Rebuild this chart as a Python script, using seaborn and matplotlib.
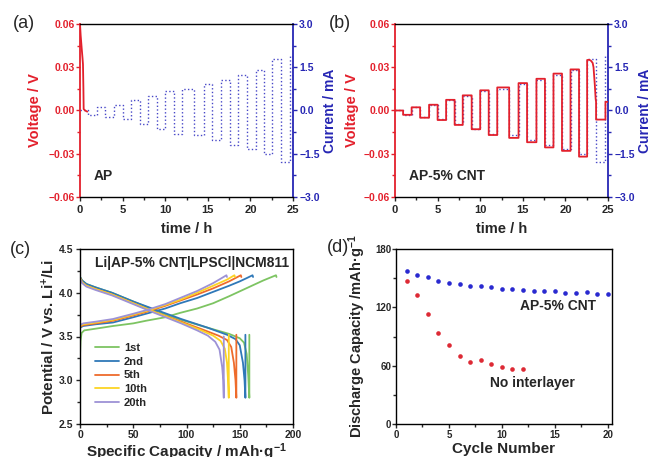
import matplotlib
matplotlib.use('Agg')
import matplotlib.pyplot as plt
from matplotlib.ticker import MultipleLocator
import seaborn as sns

# (a)/(b) galvanostatic steps: step edges (h) and current levels (mA)
step_edges = [0, 0.95, 1.95, 2.95, 4.0, 5.0, 6.0, 7.0, 7.95, 9.0, 10.0, 11.0, 12.0,
              13.4, 14.5, 15.5, 16.6, 17.6, 18.6, 19.6, 20.6, 21.6, 22.55, 23.55, 24.7]
current_ma = [0.0, -0.15, 0.11, -0.24, 0.19, -0.31, 0.35, -0.47, 0.51, -0.64, 0.67, -0.80,
              0.75, -0.86, 0.92, -1.01, 1.06, -1.19, 1.24, -1.34, 1.39, -1.50, 1.78, -1.80, 1.90]

# (a) AP voltage, only the initial spike is on scale
t_ap = [0, 0.08, 0.2, 0.3, 0.35, 0.4, 0.43, 0.6, 0.85]
v_ap = [0.060, 0.052, 0.043, 0.036, 0.032, 0.015, 0.001, 0.0, -0.0008]

# (b) AP-5% CNT voltage levels (V) on the same steps, then the last cycle
v_cnt_steps = [0.0, -0.003, 0.0022, -0.005, 0.004, -0.0066, 0.0074, -0.010, 0.0105, -0.013,
               0.014, -0.017, 0.016, -0.019, 0.019, -0.022, 0.022, -0.0256, 0.0256, -0.028,
               0.0285, -0.032]
t_cnt_tail = [22.55, 22.8, 23.0, 23.2, 23.3, 23.45, 23.55, 23.6, 23.6, 24.7, 24.7, 25.0]
v_cnt_tail = [0.035, 0.0352, 0.0345, 0.033, 0.030, 0.018, 0.008, 0.006, -0.0063, -0.0063, 0.006, 0.006]

# (c) charge / discharge curves
cycles = ['1st', '2nd', '5th', '10th', '20th']
cycle_colors = ['#7dc462', '#2f78b8', '#ee6b2c', '#fcd424', '#9d92d6']

cap_chg_1 = [0, 0.5, 1.5, 4, 15, 31, 50, 62, 80, 94, 110, 125, 140, 156, 172, 180, 184, 184.5]
v_chg_1 = [3.28, 3.45, 3.54, 3.57, 3.59, 3.62, 3.65, 3.68, 3.72, 3.77, 3.82, 3.88, 3.96, 4.05, 4.14, 4.18, 4.20, 4.18]
cap_chg_2 = [0, 3, 15, 31, 50, 62, 80, 94, 110, 125, 140, 150, 157, 162, 162.5]
v_chg_2 = [3.60, 3.62, 3.64, 3.66, 3.72, 3.76, 3.82, 3.88, 3.94, 4.01, 4.08, 4.13, 4.17, 4.20, 4.18]
cap_chg_5 = [0, 3, 15, 31, 50, 62, 80, 94, 110, 125, 140, 151, 151.5]
v_chg_5 = [3.61, 3.63, 3.65, 3.68, 3.74, 3.78, 3.85, 3.91, 3.98, 4.05, 4.13, 4.20, 4.18]
cap_chg_10 = [0, 3, 15, 31, 50, 62, 80, 94, 110, 125, 138, 145, 145.5]
v_chg_10 = [3.62, 3.64, 3.66, 3.69, 3.75, 3.79, 3.86, 3.92, 4.00, 4.08, 4.15, 4.20, 4.18]
cap_chg_20 = [0, 3, 15, 31, 50, 62, 80, 94, 110, 125, 132, 137.5, 138]
v_chg_20 = [3.63, 3.65, 3.67, 3.70, 3.76, 3.80, 3.87, 3.94, 4.02, 4.11, 4.16, 4.20, 4.18]

cap_dis_1 = [0, 2, 6, 15, 30, 50, 70, 95, 120, 140, 150, 154, 156.5, 158, 159, 159]
v_dis_1 = [4.18, 4.14, 4.10, 4.06, 4.00, 3.90, 3.80, 3.69, 3.60, 3.53, 3.48, 3.43, 3.30, 3.05, 2.80, 3.52]
cap_dis_2 = [0, 2, 6, 15, 30, 50, 70, 95, 120, 138, 146, 150, 153, 154.5, 155.3, 155.3]
v_dis_2 = [4.18, 4.14, 4.10, 4.06, 4.00, 3.90, 3.81, 3.70, 3.60, 3.52, 3.47, 3.40, 3.20, 3.00, 2.80, 3.52]
cap_dis_5 = [0, 2, 6, 15, 30, 50, 70, 95, 115, 130, 138, 142, 144.5, 146, 146.8, 146.8]
v_dis_5 = [4.17, 4.12, 4.08, 4.04, 3.98, 3.88, 3.78, 3.67, 3.58, 3.51, 3.46, 3.38, 3.20, 3.00, 2.80, 3.52]
cap_dis_10 = [0, 2, 6, 15, 30, 50, 70, 95, 112, 125, 132, 136, 138, 139, 139.7, 139.7]
v_dis_10 = [4.17, 4.12, 4.08, 4.04, 3.98, 3.88, 3.78, 3.66, 3.58, 3.51, 3.45, 3.36, 3.20, 3.00, 2.80, 3.52]
cap_dis_20 = [0, 2, 6, 15, 30, 50, 70, 95, 110, 120, 127, 131, 133.5, 134.5, 135, 135]
v_dis_20 = [4.16, 4.11, 4.07, 4.03, 3.97, 3.87, 3.77, 3.65, 3.57, 3.51, 3.44, 3.35, 3.15, 3.00, 2.80, 3.50]

# (d) discharge capacity vs cycle
cycle_cnt = list(range(1, 21))
cap_cnt = [157.7, 153.6, 150.8, 147.4, 145.0, 144.0, 141.9, 141.6, 140.6, 138.8,
           138.8, 137.5, 137.2, 136.4, 136.4, 134.7, 134.4, 135.8, 134.0, 134.0]
cycle_bare = list(range(1, 13))
cap_bare = [146.7, 132.3, 113.5, 93.6, 80.9, 70.3, 63.8, 65.5, 61.4, 58.6, 56.6, 56.9]

RED = '#e3202c'
BLUE = '#2626b4'
DOT_BLUE = '#4848c8'

sns.set_style('ticks')
plt.rcParams['font.family'] = ['Liberation Sans', 'DejaVu Sans']
plt.rcParams['font.weight'] = 'bold'
plt.rcParams['axes.labelweight'] = 'bold'
plt.rcParams['axes.edgecolor'] = 'black'
plt.rcParams['axes.linewidth'] = 1.0
plt.rcParams['mathtext.fontset'] = 'custom'
plt.rcParams['mathtext.rm'] = 'Liberation Sans:bold'
plt.rcParams['mathtext.bf'] = 'Liberation Sans:bold'
plt.rcParams['mathtext.default'] = 'regular'


def step_line(edges, levels, t_end):
    xs, ys = [], []
    for i, lv in enumerate(levels):
        t1 = edges[i + 1] if i + 1 < len(edges) else t_end
        xs += [edges[i], t1]
        ys += [lv, lv]
    return xs, ys


def dual_panel(ax, tv, vv, note, ylab_x):
    ax2 = ax.twinx()
    tc, ic = step_line(step_edges, current_ma, 25.0)
    sns.lineplot(x=tc, y=ic, ax=ax2, sort=False, estimator=None,
                 color=DOT_BLUE, linewidth=1.0, linestyle=':')
    sns.lineplot(x=tv, y=vv, ax=ax, sort=False, estimator=None, color=RED, linewidth=1.3)
    ax.set_zorder(ax2.get_zorder() + 1)
    ax.patch.set_visible(False)

    ax.set_xlim(0, 25)
    ax.set_ylim(-0.06, 0.06)
    ax2.set_ylim(-3.0, 3.0)
    ax.xaxis.set_major_locator(MultipleLocator(5))
    ax.xaxis.set_minor_locator(MultipleLocator(2.5))
    ax.yaxis.set_major_locator(MultipleLocator(0.03))
    ax.yaxis.set_minor_locator(MultipleLocator(0.015))
    ax2.yaxis.set_major_locator(MultipleLocator(1.5))
    ax2.yaxis.set_minor_locator(MultipleLocator(0.75))

    ax.spines['left'].set_color(RED)
    ax.spines['left'].set_linewidth(1.3)
    ax.spines['right'].set_visible(False)
    ax2.spines['right'].set_color(BLUE)
    ax2.spines['right'].set_linewidth(1.3)
    for s in ['left', 'top', 'bottom']:
        ax2.spines[s].set_visible(False)

    ax.tick_params(axis='x', which='both', direction='out', top=False, labelsize=8, pad=3)
    ax.tick_params(axis='x', which='major', length=3, width=1)
    ax.tick_params(axis='x', which='minor', length=2, width=1)
    ax.tick_params(axis='y', which='both', colors=RED, right=False, labelsize=7.5, pad=0.5)
    ax.tick_params(axis='y', which='major', length=3, width=1)
    ax.tick_params(axis='y', which='minor', length=2, width=1)
    ax2.tick_params(axis='y', which='both', colors=BLUE, labelsize=7.5, pad=1.5)
    ax2.tick_params(axis='y', which='major', length=3, width=1)
    ax2.tick_params(axis='y', which='minor', length=2, width=1)

    ax.set_xlabel('time / h', fontsize=10.5)
    ax.xaxis.set_label_coords(0.5, -0.145)
    ax.set_ylabel('Voltage / V', color=RED, fontsize=10.5)
    ax.yaxis.set_label_coords(ylab_x, 0.5)
    ax2.set_ylabel('Current / mA', color=BLUE, fontsize=10)
    ax2.yaxis.set_label_coords(1.143, 0.5)
    ax.text(1.6, -0.0456, note, fontsize=10, va='center', ha='left')


def box_ticks(ax, size, ypad, xpad):
    ax.tick_params(which='both', direction='out', top=False, right=False, labelsize=size)
    ax.tick_params(which='major', length=3, width=1)
    ax.tick_params(which='minor', length=2, width=1)
    ax.tick_params(axis='y', pad=ypad)
    ax.tick_params(axis='x', pad=xpad)


W, H = 652, 457
fig = plt.figure(figsize=(W / 100, H / 100), dpi=100)


def px_axes(x0, y0, x1, y1):
    return fig.add_axes([x0 / W, 1 - y1 / H, (x1 - x0) / W, (y1 - y0) / H])


ax_a = px_axes(80, 24, 293, 197)
ax_b = px_axes(395, 24, 608, 197)
ax_c = px_axes(80, 249, 293, 424)
ax_d = px_axes(396, 249, 612, 424)

# (a)
dual_panel(ax_a, t_ap, v_ap, 'AP', -0.18)

# (b)
tb, vb = step_line(step_edges[:len(v_cnt_steps)], v_cnt_steps, t_cnt_tail[0])
dual_panel(ax_b, tb + t_cnt_tail, vb + v_cnt_tail, 'AP-5% CNT', -0.17)

# (c)
chg = [(cap_chg_1, v_chg_1), (cap_chg_2, v_chg_2), (cap_chg_5, v_chg_5),
       (cap_chg_10, v_chg_10), (cap_chg_20, v_chg_20)]
dis = [(cap_dis_1, v_dis_1), (cap_dis_2, v_dis_2), (cap_dis_5, v_dis_5),
       (cap_dis_10, v_dis_10), (cap_dis_20, v_dis_20)]
for name, col, (cx, cy), (dx, dy) in zip(cycles, cycle_colors, chg, dis):
    sns.lineplot(x=cx, y=cy, ax=ax_c, sort=False, estimator=None, color=col,
                 linewidth=1.3, label=name)
    sns.lineplot(x=dx, y=dy, ax=ax_c, sort=False, estimator=None, color=col, linewidth=1.3)
ax_c.set_xlim(0, 200)
ax_c.set_ylim(2.5, 4.5)
ax_c.xaxis.set_major_locator(MultipleLocator(50))
ax_c.xaxis.set_minor_locator(MultipleLocator(25))
ax_c.yaxis.set_major_locator(MultipleLocator(0.5))
ax_c.yaxis.set_minor_locator(MultipleLocator(0.25))
box_ticks(ax_c, 7.5, 2, 1.5)
ax_c.set_xlabel('Specific Capacity / mAh·g$^{-1}$', fontsize=11)
ax_c.xaxis.set_label_coords(0.5, -0.1)
ax_c.set_ylabel('Potential / V vs. Li$^{+}$/Li', fontsize=11)
ax_c.yaxis.set_label_coords(-0.105, 0.5)
ax_c.text(105, 4.345, 'Li|AP-5% CNT|LPSCl|NCM811', fontsize=10, ha='center', va='center')
ax_c.legend(loc='upper left', bbox_to_anchor=(0.07, 0.465), frameon=False, fontsize=8,
            handlelength=2.2, handletextpad=0.4, labelspacing=0.35, borderpad=0,
            borderaxespad=0)

# (d)
sns.scatterplot(x=cycle_cnt, y=cap_cnt, ax=ax_d, color='#2a2ad0', s=11, linewidth=0)
sns.scatterplot(x=cycle_bare, y=cap_bare, ax=ax_d, color='#dd2a35', s=11, linewidth=0)
ax_d.set_xlim(0, 20.4)
ax_d.set_ylim(0, 180)
ax_d.xaxis.set_major_locator(MultipleLocator(5))
ax_d.xaxis.set_minor_locator(MultipleLocator(2.5))
ax_d.yaxis.set_major_locator(MultipleLocator(60))
ax_d.yaxis.set_minor_locator(MultipleLocator(30))
box_ticks(ax_d, 7, 0.5, 1.5)
ax_d.set_xlabel('Cycle Number', fontsize=11)
ax_d.xaxis.set_label_coords(0.5, -0.1)
ax_d.set_ylabel('Discharge Capacity /mAh·g$^{-1}$', fontsize=10.5)
ax_d.yaxis.set_label_coords(-0.13, 0.5)
ax_d.text(11.7, 121, 'AP-5% CNT', fontsize=10, ha='left', va='center')
ax_d.text(8.9, 42, 'No interlayer', fontsize=10, ha='left', va='center')

# panel letters
for lab, x, y in [('(a)', 24, 23), ('(b)', 340, 23), ('(c)', 20, 249), ('(d)', 338, 247)]:
    fig.text(x / W, 1 - y / H, lab, fontsize=13, fontweight='normal', ha='center', va='center')

fig.savefig('out.png', dpi=100)
